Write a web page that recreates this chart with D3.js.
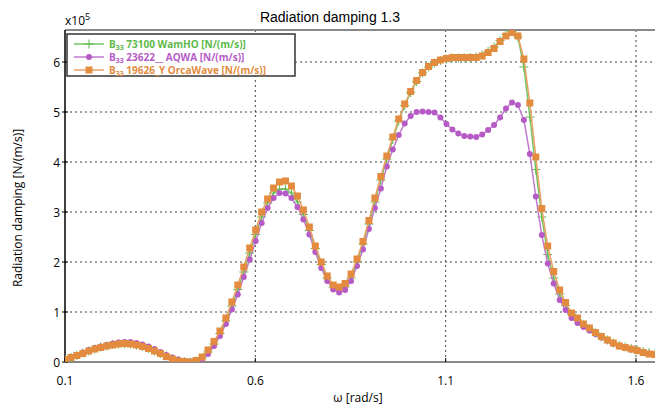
<!DOCTYPE html>
<html>
<head>
<meta charset="utf-8">
<script src="https://cdn.jsdelivr.net/npm/d3@7"></script>
<style>
body{margin:0;background:#fff;}
text{font-family:"Open Sans","Noto Sans",sans-serif;}
</style>
</head>
<body>
<svg id="chart" width="655" height="406"></svg>
<script>
// frequency grid: 100 points from 0.1 to 1.65 rad/s
omega=d3.range(100).map(function(i){return 0.1+i*1.55/99;});

// values in units of 1e5 N/(m/s)
wamho=[0.05,0.09,0.13,0.18,0.22,0.26,0.30,0.32,0.35,0.36,
       0.37,0.36,0.34,0.31,0.27,0.22,0.17,0.12,0.07,0.03,
       0.01,0.00,0.02,0.08,0.20,0.36,0.57,0.82,1.12,1.45,
       1.80,2.18,2.55,2.90,3.18,3.38,3.46,3.46,3.38,3.20,
       2.95,2.63,2.27,1.95,1.68,1.50,1.46,1.50,1.68,2.00,
       2.36,2.76,3.20,3.64,4.06,4.45,4.82,5.13,5.39,5.61,
       5.78,5.90,5.98,6.03,6.06,6.08,6.08,6.08,6.09,6.10,
       6.14,6.21,6.30,6.43,6.55,6.61,6.50,5.90,4.90,3.85,
       2.90,2.15,1.68,1.36,1.13,0.95,0.84,0.74,0.66,0.58,
       0.50,0.44,0.38,0.33,0.30,0.27,0.24,0.21,0.19,0.17];
aqwa=[0.05,0.10,0.14,0.19,0.24,0.28,0.31,0.34,0.37,0.39,
      0.40,0.40,0.38,0.35,0.31,0.26,0.20,0.14,0.09,0.05,
      0.02,0.01,0.02,0.06,0.16,0.32,0.52,0.76,1.05,1.35,
      1.70,2.05,2.42,2.78,3.08,3.28,3.38,3.37,3.28,3.10,
      2.85,2.55,2.20,1.88,1.62,1.45,1.39,1.44,1.62,1.92,
      2.25,2.66,3.08,3.47,3.91,4.25,4.54,4.77,4.92,5.00,
      5.01,5.00,4.99,4.89,4.76,4.65,4.57,4.52,4.51,4.50,
      4.55,4.64,4.74,4.89,5.07,5.19,5.14,4.84,4.16,3.31,
      2.54,1.97,1.57,1.24,1.04,0.88,0.78,0.70,0.63,0.56,
      0.49,0.43,0.37,0.32,0.28,0.25,0.22,0.19,0.17,0.15];
orcawave=[0.05,0.09,0.13,0.17,0.22,0.26,0.29,0.32,0.34,0.36,
          0.37,0.36,0.34,0.31,0.27,0.22,0.17,0.11,0.06,0.02,
          0.01,0.00,0.03,0.10,0.24,0.41,0.62,0.88,1.20,1.54,
          1.90,2.28,2.64,3.00,3.26,3.48,3.60,3.62,3.52,3.32,
          3.04,2.70,2.32,2.00,1.72,1.54,1.50,1.57,1.76,2.06,
          2.41,2.83,3.28,3.71,4.12,4.50,4.86,5.16,5.41,5.63,
          5.79,5.91,5.99,6.04,6.07,6.09,6.09,6.09,6.09,6.09,
          6.12,6.19,6.27,6.41,6.52,6.59,6.52,6.06,5.18,4.10,
          3.07,2.32,1.81,1.44,1.19,0.98,0.88,0.76,0.68,0.59,
          0.51,0.44,0.38,0.32,0.29,0.26,0.23,0.19,0.16,0.15];

seriesNames=["73100 WamHO [N/(m/s)]","23622__ AQWA [N/(m/s)]","19626_Y OrcaWave [N/(m/s)]"];
seriesColors=["#5dba4a","#b65bc5","#e38b3e"];
lineColors=["#72c566","#c07ad0","#eaa062"];
xTicks=[0.1,0.6,1.1,1.6];
yTicks=[0,1,2,3,4,5,6];

svg=d3.select("#chart");
pLeft=65; pRight=655; pTop=30; pBottom=362;
x=d3.scaleLinear().domain([0.1,1.65]).range([pLeft,pRight]);
y=d3.scaleLinear().domain([0,6.64]).range([pBottom,pTop]);

svg.append("defs").append("clipPath").attr("id","clip")
   .append("rect").attr("x",pLeft).attr("y",pTop).attr("width",pRight-pLeft).attr("height",pBottom-pTop);

// grid
grid=svg.append("g");
xTicks.slice(1).forEach(function(t){
     grid.append("line").attr("x1",x(t)).attr("x2",x(t)).attr("y1",pTop).attr("y2",pBottom)
         .attr("stroke","#444").attr("stroke-width",1).attr("stroke-dasharray","2,3");
});
yTicks.slice(1).forEach(function(t){
     grid.append("line").attr("x1",pLeft).attr("x2",pRight).attr("y1",y(t)).attr("y2",y(t))
         .attr("stroke","#444").attr("stroke-width",1).attr("stroke-dasharray","2,3");
});

// frame
svg.append("line").attr("x1",pLeft).attr("x2",pRight).attr("y1",pTop).attr("y2",pTop)
   .attr("stroke","#888").attr("stroke-width",2);
svg.append("line").attr("x1",pLeft).attr("x2",pRight).attr("y1",pBottom).attr("y2",pBottom)
   .attr("stroke","#888").attr("stroke-width",2);
svg.append("line").attr("x1",pLeft).attr("x2",pLeft).attr("y1",pTop).attr("y2",pBottom)
   .attr("stroke","#000").attr("stroke-width",1.5);

// axis ticks and labels
yTicks.forEach(function(t){
     svg.append("line").attr("x1",pLeft-3).attr("x2",pLeft+3).attr("y1",y(t)).attr("y2",y(t))
        .attr("stroke","#000");
     svg.append("text").text(t).attr("x",pLeft-5).attr("y",y(t)+4.5)
        .attr("font-size","12px").attr("text-anchor","end").attr("fill","#000");
});
xTicks.forEach(function(t){
     svg.append("line").attr("x1",x(t)).attr("x2",x(t)).attr("y1",pBottom).attr("y2",pBottom-4)
        .attr("stroke","#000");
     svg.append("text").text(t).attr("x",x(t)).attr("y",385)
        .attr("font-size","12px").attr("text-anchor","middle").attr("fill","#000");
});
svg.append("text").text("ω [rad/s]").attr("x",358).attr("y",402)
   .attr("font-size","12px").attr("text-anchor","middle");
svg.append("text").text("Radiation damping [N/(m/s)]")
   .attr("transform","translate(22,208) rotate(-90)")
   .attr("font-size","12px").attr("text-anchor","middle");
svg.append("text").text("Radiation damping 1.3").attr("x",330).attr("y",22)
   .style("font-family","'Liberation Sans',Arial,sans-serif")
   .attr("font-size","14px").attr("text-anchor","middle");
ex=svg.append("text").attr("x",65).attr("y",25).attr("font-size","12px");
ex.append("tspan").text("x10");
ex.append("tspan").text("5").attr("font-size","9px").attr("dy",-5);

// series
plot=svg.append("g").attr("clip-path","url(#clip)");
allSeries=[wamho,aqwa,orcawave];
line=d3.line().x(function(d,i){return x(omega[i]);}).y(function(d){return y(d);});

function drawMarker(g,k,cx,cy){
     if(k==0){
          g.append("path").attr("d","M"+(cx-4.5)+","+cy+"H"+(cx+4.5)+"M"+cx+","+(cy-4.5)+"V"+(cy+4.5))
           .attr("stroke",seriesColors[0]).attr("stroke-width",1).attr("fill","none");
     } else if(k==1){
          g.append("circle").attr("cx",cx).attr("cy",cy).attr("r",3).attr("fill",seriesColors[1]);
     } else {
          g.append("rect").attr("x",cx-3.5).attr("y",cy-3.5).attr("width",7).attr("height",7)
           .attr("fill",seriesColors[2]);
     }
}

allSeries.forEach(function(vals,k){
     plot.append("path").datum(vals).attr("d",line)
         .attr("fill","none").attr("stroke",lineColors[k]).attr("stroke-width",1.5);
     vals.forEach(function(v,i){ drawMarker(plot,k,x(omega[i]),y(v)); });
});

// legend
legend=svg.append("g");
legend.append("rect").attr("x",67).attr("y",34).attr("width",228).attr("height",42)
      .attr("fill","#fff").attr("stroke","#333").attr("stroke-width",1.5);
seriesNames.forEach(function(name,k){
     ly=44+13*k;
     legend.append("line").attr("x1",74).attr("x2",104).attr("y1",ly).attr("y2",ly)
           .attr("stroke",lineColors[k]).attr("stroke-width",1.5);
     drawMarker(legend,k,89,ly);
     t=legend.append("text").attr("x",109).attr("y",ly+3.5).attr("font-size","10px")
           .attr("font-weight","bold").attr("fill",seriesColors[k]);
     t.append("tspan").text("B");
     t.append("tspan").text("33").attr("font-size","7px").attr("dy",2);
     t.append("tspan").text(" "+name).attr("dy",-2);
});
</script>
</body>
</html>
